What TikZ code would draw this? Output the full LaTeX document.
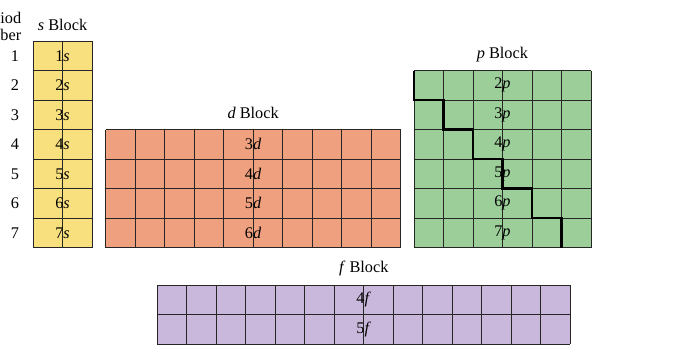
\documentclass[tikz,border=0pt]{standalone}
\usepackage{fontspec}
\setmainfont{Liberation Serif}
\definecolor{block_s}{HTML}{F9E07E}
\definecolor{block_d}{HTML}{EFA07E}
\definecolor{block_p}{HTML}{9CCE9A}
\definecolor{block_f}{HTML}{CAB8DC}
\tikzset{blockgrid/.style={line width=0.5pt, draw=black!85}}
% cells of one block: width, height
\newcommand{\blockcells}[3]{%
    \fill[#3] (0,0) rectangle (#1,#2);
    \foreach \i in {0,...,#1} \draw[blockgrid] (\i,0) -- (\i,#2);
    \foreach \j in {0,...,#2} \draw[blockgrid] (0,\j) -- (#1,\j);
}
\begin{document}
\begin{tikzpicture}[x=0.7cm,y=0.7cm,font=\fontsize{11}{11.5}\selectfont]
    \useasboundingbox (0,0) rectangle (23.22,-12.03);

    % period numbers
    \node[anchor=south east, align=right, inner sep=0pt] (period_head) at (0.73,-1.38) {Period\\Number};
    \foreach \n in {1,...,7}
        \node (per\n) at (0.51,-0.89-\n) {\n};

    % s block
    \begin{scope}[shift={(1.12,-8.39)}]
        \blockcells{2}{7}{block_s}
        \node (s_title) at (1,7.55) {\textit{s} Block};
        \foreach \n in {1,...,7}
            \node (s\n) at (1,7.5-\n) {\n\textit{s}};
    \end{scope}

    % d block
    \begin{scope}[shift={(3.58,-8.39)}]
        \blockcells{10}{4}{block_d}
        \node (d_title) at (5,4.55) {\textit{d} Block};
        \foreach \n in {3,...,6}
            \node (d\n) at (5,6.5-\n) {\n\textit{d}};
    \end{scope}

    % p block
    \begin{scope}[shift={(14.03,-8.39)}]
        \blockcells{6}{6}{block_p}
        \node (p_title) at (3,6.55) {\textit{p} Block};
        \foreach \n in {2,...,7}
            \node (p\n) at (3,7.5-\n) {\n\textit{p}};
        \draw[line width=1.7pt] (0,6) -- (0,5) -- (1,5) -- (1,4) -- (2,4) -- (2,3)
            -- (3,3) -- (3,2) -- (4,2) -- (4,1) -- (5,1) -- (5,0);
    \end{scope}

    % f block
    \begin{scope}[shift={(5.33,-11.66)}]
        \blockcells{14}{2}{block_f}
        \node (f_title) at (7,2.55) {\textit{f} Block};
        \foreach \n in {4,5}
            \node (f\n) at (7,5.5-\n) {\n\textit{f}};
    \end{scope}
\end{tikzpicture}
\end{document}
